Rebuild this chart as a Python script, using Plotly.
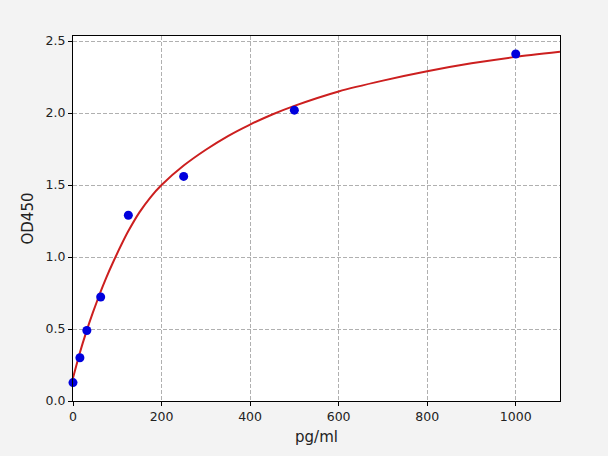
import plotly.graph_objects as go

# standard points
conc = [0, 15.6, 31.25, 62.5, 125, 250, 500, 1000]
od = [0.128, 0.30, 0.49, 0.722, 1.29, 1.56, 2.02, 2.41]

# fitted curve
curve_x = [0, 15, 30, 45, 60, 75, 90, 110, 125, 150, 175, 200, 250, 300, 350, 400,
           450, 500, 600, 700, 800, 900, 1000, 1100]
curve_y = [0.16, 0.33, 0.48, 0.615, 0.74, 0.855, 0.96, 1.09, 1.18, 1.31, 1.415, 1.50, 1.635,
           1.745, 1.84, 1.92, 1.99, 2.05, 2.15, 2.225, 2.29, 2.345, 2.39, 2.425]

x_ticks = [0, 200, 400, 600, 800, 1000]
y_ticks = [0.0, 0.5, 1.0, 1.5, 2.0, 2.5]

fig = go.Figure()
fig.add_trace(go.Scatter(
    x=curve_x, y=curve_y, mode='lines',
    line=dict(color='#cc1f1f', width=2, shape='spline', smoothing=0.6),
    showlegend=False
))
fig.add_trace(go.Scatter(
    x=conc, y=od, mode='markers', marker=dict(color='#0000dd', size=9),
    cliponaxis=False, showlegend=False
))

axis_common = dict(
    showline=True, linecolor='black', linewidth=1, mirror=True,
    ticks='outside', ticklen=4, tickcolor='black',
    showgrid=True, gridcolor='#b0b0b0', griddash='4px,2px', gridwidth=1,
    zeroline=False, tickfont=dict(size=12.5, color='#222222'),
)

fig.update_layout(
    width=608, height=456,
    paper_bgcolor='#f3f3f3', plot_bgcolor='white',
    margin=dict(l=73, r=48, t=36, b=55),
    font=dict(family='DejaVu Sans', size=12.5, color='#222222'),
    xaxis=dict(range=[0, 1100], tickvals=x_ticks, ticktext=[str(v) for v in x_ticks],
               title=dict(text='pg/ml', standoff=8), **axis_common),
    yaxis=dict(range=[0, 2.535], tickvals=y_ticks, ticktext=['%.1f' % v for v in y_ticks],
               title=dict(text='OD450', standoff=8), **axis_common),
)

# drop the browser's default page margin so the figure sits at the top-left corner
fig.write_html("out.html", config={'displayModeBar': False},
               post_script="document.body.style.margin='0';")
